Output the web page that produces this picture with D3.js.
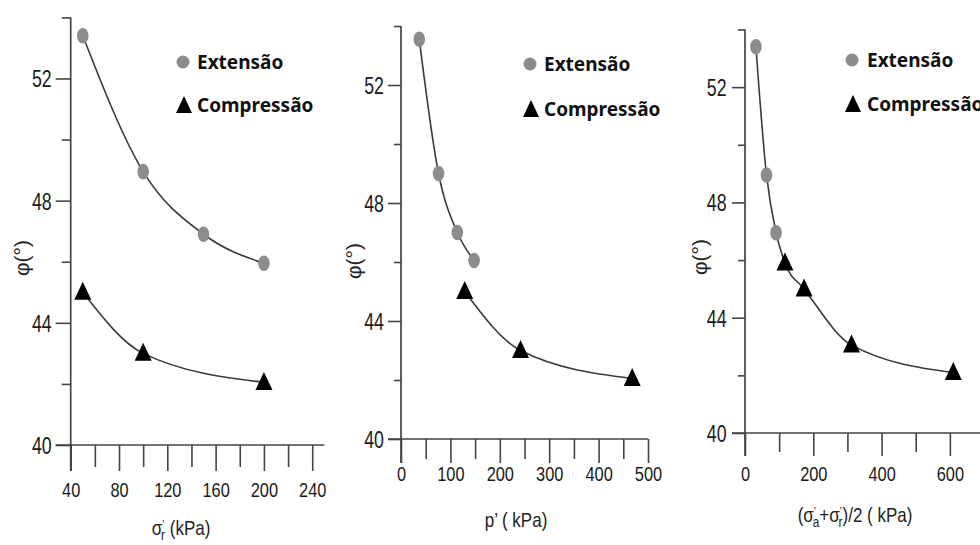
<!DOCTYPE html>
<html>
<head>
<meta charset="utf-8">
<title>φ versus tensão efetiva</title>
<script src="https://d3js.org/d3.v7.min.js"></script>
<style>
body { margin: 0; background: #fff; }
svg { display: block; }
</style>
</head>
<body>
<svg id="chart" width="980" height="545"></svg>
<script>
// values
const phiMajor = [40, 44, 48, 52];
const phiMinor = [42, 46, 50, 54];

const sigRTicks = [40, 80, 120, 160, 200, 240];
const sigRMinor = [60, 100, 140, 180, 220];
const pTicks = [0, 100, 200, 300, 400, 500];
const pMinor = [50, 150, 250, 350, 450];
const sTicks = [0, 200, 400, 600];
const sMinor = [100, 300, 500];

// panel 1: sigma'r
const ext1X = [50, 100, 150, 200];
const ext1Y = [53.4, 48.95, 46.9, 45.95];
const comp1X = [50, 100, 200];
const comp1Y = [45.0, 43.0, 42.05];

// panel 2: p'
const ext2X = [37, 76, 114, 148];
const ext2Y = [53.55, 49.0, 47.0, 46.05];
const comp2X = [129, 242, 468];
const comp2Y = [45.0, 43.0, 42.05];

// panel 3: (sigma'a + sigma'r)/2
const ext3X = [32, 63, 91];
const ext3Y = [53.4, 48.95, 46.95];
const comp3X = [117, 173, 312, 610];
const comp3Y = [45.9, 45.0, 43.05, 42.1];

const svg = d3.select("#chart");
const axisCol = "#444";
const narrow = "'Liberation Sans', Arial, sans-serif";
const boldFont = "'Noto Sans', 'Open Sans', sans-serif";

const panels = [
  { xDomain: [40, 250], xRange: [70.7, 324.3], yRange: [445, 17.4],
    xTicks: sigRTicks, xMinor: sigRMinor, xTickLen: 26, yTickLen: 15,
    xLabelTop: 37, yLabelX: -19,
    ext: [ext1X, ext1Y], comp: [comp1X, comp1Y], joined: false,
    yTitle: [22, 258], xTitle: [181, 535], title: "sr",
    legend: { cx: 183, tx: 197, cy: 62, ty: 105 } },
  { xDomain: [0, 500], xRange: [401, 648], yRange: [439, 26],
    xTicks: pTicks, xMinor: pMinor, xTickLen: 24, yTickLen: 13,
    xLabelTop: 27, yLabelX: -17,
    ext: [ext2X, ext2Y], comp: [comp2X, comp2Y], joined: false,
    yTitle: [354, 261], xTitle: [516, 527], title: "p",
    legend: { cx: 530, tx: 544, cy: 64, ty: 109 } },
  { xDomain: [0, 700], xRange: [745, 984], yRange: [433, 29.5],
    xTicks: sTicks, xMinor: sMinor, xTickLen: 23, yTickLen: 13,
    xLabelTop: 33, yLabelX: -18.5,
    ext: [ext3X, ext3Y], comp: [comp3X, comp3Y], joined: true,
    yTitle: [700, 257], xTitle: [855, 522], title: "s",
    legend: { cx: 852, tx: 867, cy: 60, ty: 104 } }
];

const triPath = "M0,-10.5L8.5,7.5L-8.5,7.5Z";

panels.forEach(p => {
  const g = svg.append("g");
  const x = d3.scaleLinear().domain(p.xDomain).range(p.xRange);
  const y = d3.scaleLinear().domain([40, 54]).range(p.yRange);
  const x0 = x(p.xDomain[0]);

  // x axis, minor then major ticks
  const gxm = g.append("g").attr("transform", `translate(0,${y(40)})`)
    .call(d3.axisBottom(x).tickValues(p.xMinor).tickSize(p.xTickLen - 4).tickFormat(""));
  const gx = g.append("g").attr("transform", `translate(0,${y(40)})`)
    .call(d3.axisBottom(x).tickValues(p.xTicks).tickSize(p.xTickLen).tickFormat(d3.format("d")));

  // y axis
  const gym = g.append("g").attr("transform", `translate(${x0},0)`)
    .call(d3.axisLeft(y).tickValues(phiMinor).tickSize(p.yTickLen - 6).tickFormat(""));
  const gy = g.append("g").attr("transform", `translate(${x0},0)`)
    .call(d3.axisLeft(y).tickValues(phiMajor).tickSize(p.yTickLen).tickFormat(d3.format("d")));

  [gxm, gx, gym, gy].forEach(a => {
    a.select(".domain").remove();
    a.selectAll("line").attr("stroke", axisCol).attr("stroke-width", 1.6);
  });

  gx.selectAll("text")
    .attr("y", p.xLabelTop).attr("dy", "0.71em")
    .attr("transform", "scale(0.78,1)")
    .attr("fill", "#1a1a1a").style("font-family", narrow).style("font-size", "21px");
  gy.selectAll("text")
    .attr("x", p.yLabelX / 0.74).attr("dy", "0.35em")
    .attr("transform", "scale(0.74,1)")
    .attr("fill", "#1a1a1a").style("font-family", narrow).style("font-size", "24px");

  // axis lines
  g.append("line")
    .attr("x1", x0 - p.yTickLen).attr("x2", x(p.xDomain[1]))
    .attr("y1", y(40)).attr("y2", y(40))
    .attr("stroke", axisCol).attr("stroke-width", 1.7);
  g.append("line")
    .attr("x1", x0).attr("x2", x0)
    .attr("y1", y(54)).attr("y2", y(40) + p.xTickLen)
    .attr("stroke", axisCol).attr("stroke-width", 1.7);

  // fitted curves
  const line = d3.line().x(d => x(d[0])).y(d => y(d[1])).curve(d3.curveMonotoneX);
  const ext = d3.zip(p.ext[0], p.ext[1]);
  const comp = d3.zip(p.comp[0], p.comp[1]);
  const curves = p.joined ? [ext.concat(comp)] : [ext, comp];
  curves.forEach(c => {
    g.append("path").datum(c).attr("d", line)
      .attr("fill", "none").attr("stroke", "#3a3a3a").attr("stroke-width", 1.6);
  });

  // markers
  g.selectAll(".ext").data(ext).join("ellipse")
    .attr("cx", d => x(d[0])).attr("cy", d => y(d[1]))
    .attr("rx", 5.8).attr("ry", 7.8).attr("fill", "#8c8c8c");
  g.selectAll(".comp").data(comp).join("path")
    .attr("d", triPath)
    .attr("transform", d => `translate(${x(d[0])},${y(d[1])})`)
    .attr("fill", "#000");

  // legend
  const L = p.legend;
  g.append("circle").attr("cx", L.cx).attr("cy", L.cy).attr("r", 6.5).attr("fill", "#8c8c8c");
  g.append("path").attr("d", "M0,-9L8,8L-8,8Z")
    .attr("transform", `translate(${L.cx + 1},${L.ty})`).attr("fill", "#000");
  g.append("text").attr("x", L.tx).attr("y", L.cy + 6.5).text("Extensão")
    .style("font-family", boldFont).style("font-weight", 700).style("font-size", "19px").attr("fill", "#111");
  g.append("text").attr("x", L.tx).attr("y", L.ty + 6.5).text("Compressão")
    .style("font-family", boldFont).style("font-weight", 700).style("font-size", "19px").attr("fill", "#111");

  // y title
  g.append("text")
    .attr("transform", `translate(${p.yTitle[0]},${p.yTitle[1]}) rotate(-90)`)
    .attr("text-anchor", "middle").attr("dy", "0.35em")
    .style("font-family", narrow).style("font-size", "21px").attr("fill", "#222")
    .text("φ(°)");

  // x title
  const t = g.append("g").attr("transform", `translate(${p.xTitle[0]},${p.xTitle[1]}) scale(0.85,1)`)
    .append("text").attr("text-anchor", "middle")
    .style("font-family", narrow).style("font-size", "20px").attr("fill", "#222");
  const sigma = (sub) => {
    t.append("tspan").text("σ");
    t.append("tspan").attr("dy", -6).style("font-size", "12px").text("ʼ");
    t.append("tspan").attr("dx", -4).attr("dy", 11).style("font-size", "14px").text(sub);
  };
  if (p.title === "sr") {
    sigma("r");
    t.append("tspan").attr("dy", -5).text(" (kPa)");
  } else if (p.title === "p") {
    t.text("p’ ( kPa)");
  } else {
    t.append("tspan").text("(");
    sigma("a");
    t.append("tspan").attr("dy", -5).text("+");
    sigma("r");
    t.append("tspan").attr("dy", -5).text(")/2 ( kPa)");
  }
});
</script>
</body>
</html>
